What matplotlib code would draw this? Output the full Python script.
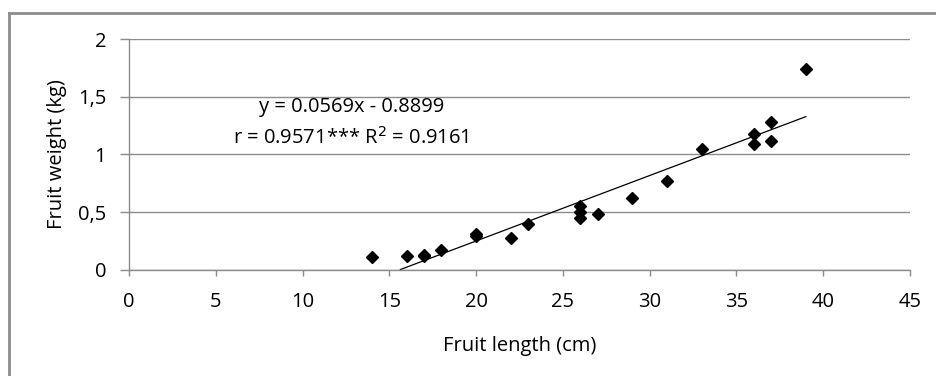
import numpy as np
import matplotlib
matplotlib.use('Agg')
from matplotlib import pyplot as plt
from matplotlib.lines import Line2D

#%% Data
fruit_length = [14, 16, 17, 17, 18, 20, 20, 22, 23, 26, 26, 26, 27, 29, 31, 33, 36, 36, 37, 37, 39]
fruit_weight = [0.11, 0.12, 0.12, 0.13, 0.17, 0.29, 0.31, 0.27, 0.40, 0.45, 0.50, 0.55, 0.48, 0.62, 0.77, 1.05, 1.09, 1.18, 1.12, 1.28, 1.74]

slope = 0.0569
intercept = -0.8899
r_value = 0.9571
r2_value = 0.9161

xticks = [0, 5, 10, 15, 20, 25, 30, 35, 40, 45]
yticks = [0, 0.5, 1, 1.5, 2]
ytick_labels = ['0', '0,5', '1', '1,5', '2']

#%% Plot
plt.rcParams['font.family'] = ['Open Sans', 'DejaVu Sans']
grey = '#8c8c8c'
fs = 14.5

fig = plt.figure(figsize=[9.36, 3.76], dpi=100)
ax = fig.add_axes([0.1378, 0.2832, 0.9722 - 0.1378, 0.895 - 0.2832])

ax.plot(fruit_length, fruit_weight, 'D', color='black', markersize=6.5, zorder=3)

# Linear trend line from the x intercept to the last point
x0 = -intercept / slope
xfit = np.array([x0, max(fruit_length)])
ax.plot(xfit, slope*xfit + intercept, '-', color='black', lw=0.9, zorder=2)

ax.text(12.8, 1.414, f'y = {slope}x - {-intercept}', ha='center', va='center', fontsize=fs)
ax.text(12.8, 1.142, f'r = {r_value}*** R$^2$ = {r2_value}', ha='center', va='center', fontsize=fs)

ax.set_xlim(0, 45)
ax.set_ylim(0, 2)
ax.set_xticks(xticks)
ax.set_xticklabels([str(t) for t in xticks])
ax.set_yticks(yticks)
ax.set_yticklabels(ytick_labels)
ax.tick_params(axis='x', length=4.3, width=1, color=grey, pad=12, labelsize=fs)
ax.tick_params(axis='y', length=6.5, width=1, color=grey, pad=10, labelsize=fs)
ax.yaxis.grid(True, color=grey, lw=1)
ax.set_axisbelow(True)
for side in ['top', 'right']:
    ax.spines[side].set_visible(False)
for side in ['left', 'bottom']:
    ax.spines[side].set_color(grey)
    ax.spines[side].set_linewidth(1)

ax.set_xlabel('Fruit length (cm)', fontsize=fs, labelpad=17)
ax.set_ylabel('Fruit weight (kg)', fontsize=fs, labelpad=8)

# Chart border (only left and top edges are visible in the crop)
fx = 8.5/936
fy = 1 - 12.5/376
fig.add_artist(Line2D([fx, fx], [0, fy], color=grey, lw=2, transform=fig.transFigure))
fig.add_artist(Line2D([fx, 1], [fy, fy], color=grey, lw=2, transform=fig.transFigure))

plt.savefig('out.png', dpi=100)
